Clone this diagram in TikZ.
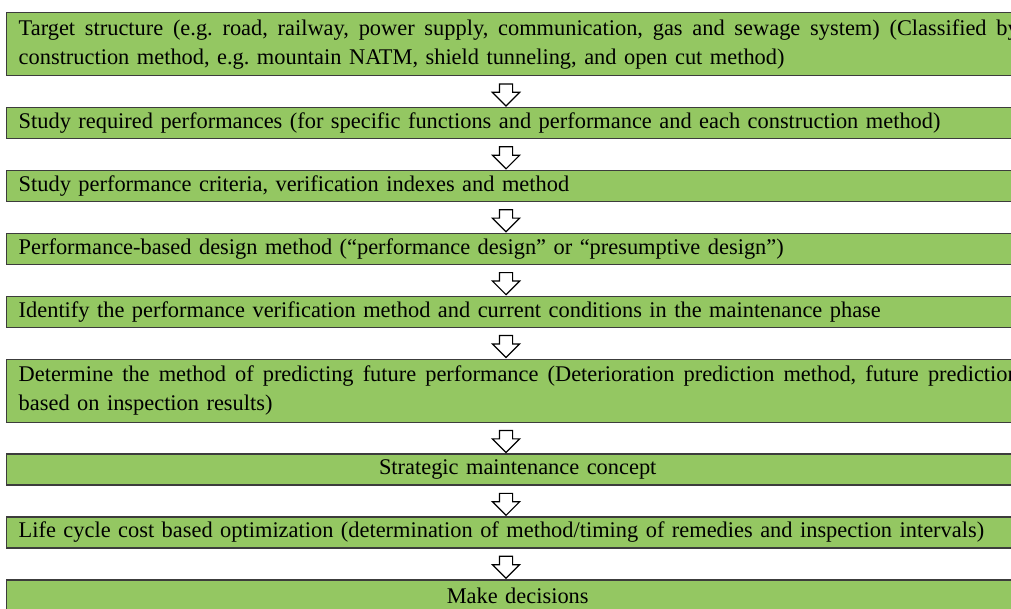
\documentclass[tikz,border=0pt]{standalone}
\usepackage{fontspec}
\setmainfont{Liberation Serif}
\usetikzlibrary{positioning,shapes.arrows}
\definecolor{boxgreen}{RGB}{148,199,98}
\definecolor{boxline}{RGB}{60,60,60}
\newcommand\fullline[2]{\makebox[#1][s]{\spaceskip=.25em plus 1fil\relax #2}}
\tikzset{
  stage/.style={draw=boxline, line width=1.4pt, fill=boxgreen, rectangle,
    text width=998pt, inner xsep=12pt, inner ysep=2pt, minimum height=31pt,
    align=left, font=\fontsize{22.4}{29}\selectfont\frenchspacing},
  tall/.style={minimum height=63pt},
  flowarrow/.style={single arrow, draw=black, line width=1.2pt, fill=white,
    inner sep=6pt, minimum height=22pt, single arrow head extend=7pt,
    shape border rotate=270}
}
\begin{document}
\begin{tikzpicture}[x=1pt, y=-1pt]
\useasboundingbox (0,0) rectangle (1011,609);
\clip (0,0) rectangle (1011,609);
\fill[white] (0,0) rectangle (1011,609);

\node[stage, tall, anchor=north west] (b1) at (6,12)
  {\fullline{1000pt}{Target structure (e.g. road, railway, power supply, communication, gas and sewage system) (Classified by}\\
   construction method, e.g. mountain NATM, shield tunneling, and open cut method)};
\node[stage, below=30.5pt of b1] (b2)
  {Study required performances (for specific functions and performance and each construction method)};
\node[stage, below=30.5pt of b2] (b3)
  {Study performance criteria, verification indexes and method};
\node[stage, below=30.5pt of b3] (b4)
  {Performance-based design method (“performance design” or “presumptive design”)};
\node[stage, below=30.5pt of b4] (b5)
  {Identify the performance verification method and current conditions in the maintenance phase};
\node[stage, tall, below=30.5pt of b5] (b6)
  {\fullline{1000pt}{Determine the method of predicting future performance (Deterioration prediction method, future prediction}\\
   based on inspection results)};
\node[stage, align=center, below=30.5pt of b6] (b7) {Strategic maintenance concept};
\node[stage, below=30.5pt of b7] (b8)
  {Life cycle cost based optimization (determination of method/timing of remedies and inspection intervals)};
\node[stage, align=center, below=30.5pt of b8] (b9) {Make decisions};

\coordinate (axis) at (506,0);
\foreach \i/\j in {1/2,2/3,3/4,4/5,5/6,6/7,7/8,8/9}{
  \path (b\i.south) -- (b\j.north) coordinate[midway] (m\i);
  \node[flowarrow] (a\i) at (m\i -| axis) {};
}
\end{tikzpicture}
\end{document}
